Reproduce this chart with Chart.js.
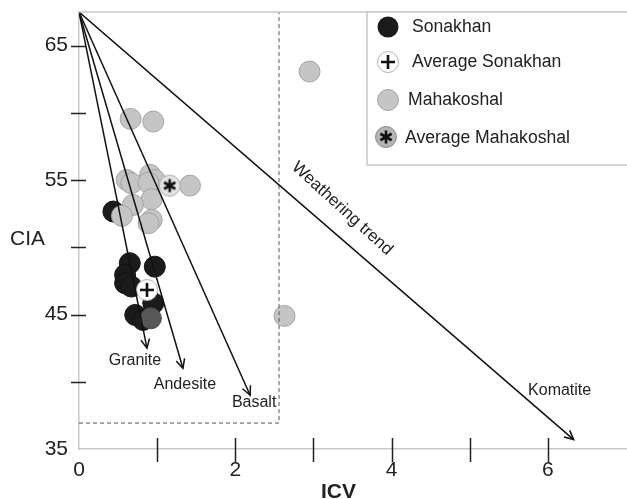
<!DOCTYPE html>
<html>
<head>
<meta charset="utf-8">
<script src="https://cdn.jsdelivr.net/npm/chart.js@4.4.0/dist/chart.umd.min.js"></script>
<style>
html, body { margin: 0; padding: 0; background: #fff; }
#wrap { width: 627px; height: 499px; position: relative; }
</style>
</head>
<body>
<div id="wrap"><canvas id="cia-chart"></canvas></div>
<script>
var sonakhanICV = [0.44, 0.65, 0.97, 0.59, 0.59, 0.67, 0.95, 0.72, 0.82];
var sonakhanCIA = [52.66, 48.82, 48.56, 47.95, 47.33, 47.08, 45.84, 44.97, 44.60];
var mahakoshalICV = [2.95, 0.66, 0.95, 0.61, 0.67, 0.91, 0.97, 0.89, 1.42, 0.93, 0.69, 0.55, 0.93, 0.89, 2.63, 0.92];
var mahakoshalCIA = [63.07, 59.55, 59.35, 55.01, 54.77, 55.39, 55.01, 54.81, 54.59, 53.58, 53.15, 52.34, 52.04, 51.79, 44.9, 44.72];
var avgSonakhan = [0.87, 46.83];
var avgMahakoshal = [1.16, 54.59];
var trendNames = ["Granite", "Andesite", "Basalt", "Komatite"];
var trendEndICV = [0.87, 1.33, 2.19, 6.33];
var trendEndCIA = [42.5, 41.0, 39.0, 35.7];
var trendStart = [0, 67.5];
var fieldICV = 2.56;
var fieldCIA = 36.93;
var xTickMarks = [1, 2, 3, 4, 5, 6];
var yTickMarks = [40, 45, 50, 55, 60, 65];
var yLabels = [35, 45, 55, 65];

var FONT = "'Liberation Sans', Arial, sans-serif";

function toPoints(xs, ys) {
    var pts = [];
    for (var i = 0; i < xs.length; i++) {
        pts.push({x: xs[i], y: ys[i]});
    }
    return pts;
}

function makeMarker(fill, stroke, glyph) {
    var c = document.createElement("canvas");
    c.width = 24;
    c.height = 24;
    var g = c.getContext("2d");
    g.beginPath();
    g.arc(12, 12, 10.5, 0, Math.PI * 2);
    g.fillStyle = fill;
    g.fill();
    g.lineWidth = 1;
    g.strokeStyle = stroke;
    g.stroke();
    g.strokeStyle = "#111";
    g.lineWidth = 2.6;
    g.beginPath();
    if (glyph === "plus") {
        g.moveTo(5, 12); g.lineTo(19, 12);
        g.moveTo(12, 5); g.lineTo(12, 19);
    } else {
        for (var k = 0; k < 3; k++) {
            var a = Math.PI / 2 + k * Math.PI / 3;
            g.moveTo(12 - 6.5 * Math.cos(a), 12 - 6.5 * Math.sin(a));
            g.lineTo(12 + 6.5 * Math.cos(a), 12 + 6.5 * Math.sin(a));
        }
    }
    g.stroke();
    return c;
}

var plusMarker = makeMarker("#ffffff", "#b5b5b5", "plus");
var starMarker = makeMarker("#e4e4e4", "#a8a8a8", "star");
var starLegendMarker = makeMarker("#b4b4b4", "#8c8c8c", "star");

var datasets = [];
trendNames.forEach(function (name, i) {
    datasets.push({
        label: name,
        data: [{x: trendStart[0], y: trendStart[1]}, {x: trendEndICV[i], y: trendEndCIA[i]}],
        showLine: true,
        borderColor: "#111",
        borderWidth: 1.5,
        pointRadius: 0,
        order: 1
    });
});
datasets.push({
    label: "field",
    data: [{x: 0, y: fieldCIA}, {x: fieldICV, y: fieldCIA}, {x: fieldICV, y: trendStart[1]}],
    showLine: true,
    borderColor: "#555",
    borderWidth: 1,
    borderDash: [4, 3],
    pointRadius: 0,
    order: 2
});
datasets.push({
    label: "Average Mahakoshal",
    data: [{x: avgMahakoshal[0], y: avgMahakoshal[1]}],
    pointStyle: starMarker,
    order: 3
});
datasets.push({
    label: "Average Sonakhan",
    data: [{x: avgSonakhan[0], y: avgSonakhan[1]}],
    pointStyle: plusMarker,
    order: 4
});
datasets.push({
    label: "Mahakoshal",
    data: toPoints(mahakoshalICV, mahakoshalCIA),
    pointRadius: 10.5,
    pointBackgroundColor: function (ctx) {
        var p = ctx.raw;
        return (p && p.y < 46 && p.x < 1.5) ? "#575757" : "#c5c5c5";
    },
    pointBorderColor: function (ctx) {
        var p = ctx.raw;
        return (p && p.y < 46 && p.x < 1.5) ? "#4a4a4a" : "#a3a3a3";
    },
    pointBorderWidth: 1,
    order: 5
});
datasets.push({
    label: "Sonakhan",
    data: toPoints(sonakhanICV, sonakhanCIA),
    pointRadius: 10.5,
    pointBackgroundColor: "#1b1b1b",
    pointBorderColor: "#111",
    pointBorderWidth: 1,
    order: 6
});

function noScalePadding(s) {
    s.paddingLeft = 0;
    s.paddingRight = 0;
    s.paddingTop = 0;
    s.paddingBottom = 0;
}

var decorPlugin = {
    id: "decor",
    afterDraw: function (chart) {
        var ctx = chart.ctx;
        var xs = chart.scales.x;
        var ys = chart.scales.y;
        var area = chart.chartArea;
        ctx.save();

        // top frame line
        ctx.strokeStyle = "#c8c8c8";
        ctx.lineWidth = 1.5;
        ctx.beginPath();
        ctx.moveTo(area.left, area.top);
        ctx.lineTo(chart.width, area.top);
        ctx.stroke();

        // tick marks crossing the axes
        ctx.strokeStyle = "#222";
        ctx.lineWidth = 1.5;
        ctx.beginPath();
        xTickMarks.forEach(function (v) {
            var px = Math.round(xs.getPixelForValue(v)) + 0.5;
            ctx.moveTo(px, area.bottom - 11);
            ctx.lineTo(px, area.bottom + 13);
        });
        yTickMarks.forEach(function (v) {
            var py = Math.round(ys.getPixelForValue(v)) + 0.5;
            ctx.moveTo(area.left - 8, py);
            ctx.lineTo(area.left + 7, py);
        });
        ctx.stroke();

        // arrow heads and rock labels
        var labelOffsets = [[-12, 17], [2, 21], [4, 12], [-14, -45]];
        ctx.strokeStyle = "#111";
        ctx.lineWidth = 1.5;
        ctx.fillStyle = "#222";
        ctx.font = "16px " + FONT;
        ctx.textAlign = "center";
        ctx.textBaseline = "alphabetic";
        var x0 = xs.getPixelForValue(trendStart[0]);
        var y0 = ys.getPixelForValue(trendStart[1]);
        trendNames.forEach(function (name, i) {
            var tx = xs.getPixelForValue(trendEndICV[i]);
            var ty = ys.getPixelForValue(trendEndCIA[i]);
            var ang = Math.atan2(ty - y0, tx - x0);
            ctx.beginPath();
            ctx.moveTo(tx - 10 * Math.cos(ang - 0.45), ty - 10 * Math.sin(ang - 0.45));
            ctx.lineTo(tx, ty);
            ctx.lineTo(tx - 10 * Math.cos(ang + 0.45), ty - 10 * Math.sin(ang + 0.45));
            ctx.stroke();
            ctx.fillText(name, tx + labelOffsets[i][0], ty + labelOffsets[i][1]);
        });

        // weathering trend label along the komatite line
        ctx.save();
        ctx.translate(339, 212);
        ctx.rotate(0.74);
        ctx.font = "17px " + FONT;
        ctx.fillText("Weathering trend", 0, 0);
        ctx.restore();

        // axis titles
        ctx.textAlign = "left";
        ctx.font = "21px " + FONT;
        ctx.fillText("CIA", 10, 245);
        ctx.font = "bold 21px " + FONT;
        ctx.fillText("ICV", 321, 498);

        // legend box
        ctx.fillStyle = "#fff";
        ctx.fillRect(367, area.top, chart.width - 367, 153);
        ctx.strokeStyle = "#c8c8c8";
        ctx.lineWidth = 1.5;
        ctx.beginPath();
        ctx.moveTo(chart.width, area.top);
        ctx.lineTo(367, area.top);
        ctx.lineTo(367, area.top + 153);
        ctx.lineTo(chart.width, area.top + 153);
        ctx.stroke();

        ctx.beginPath();
        ctx.arc(388, 27, 10.5, 0, Math.PI * 2);
        ctx.fillStyle = "#1b1b1b";
        ctx.fill();
        ctx.drawImage(plusMarker, 376, 50);
        ctx.beginPath();
        ctx.arc(388, 100, 10.5, 0, Math.PI * 2);
        ctx.fillStyle = "#c5c5c5";
        ctx.fill();
        ctx.strokeStyle = "#a3a3a3";
        ctx.lineWidth = 1;
        ctx.stroke();
        ctx.drawImage(starLegendMarker, 374, 125);

        ctx.fillStyle = "#222";
        ctx.font = "17.6px " + FONT;
        ctx.textBaseline = "middle";
        ctx.fillText("Sonakhan", 412, 27);
        ctx.fillText("Average Sonakhan", 412, 62);
        ctx.fillText("Mahakoshal", 408, 100);
        ctx.fillText("Average Mahakoshal", 405, 138);
        ctx.restore();
    }
};

var chart = new Chart(document.getElementById("cia-chart"), {
    type: "scatter",
    data: {datasets: datasets},
    options: {
        responsive: true,
        maintainAspectRatio: false,
        animation: false,
        layout: {autoPadding: false, padding: {top: 12, right: 1, left: 0, bottom: 0}},
        plugins: {
            legend: {display: false},
            tooltip: {enabled: false}
        },
        scales: {
            x: {
                type: "linear",
                min: 0,
                max: 7,
                afterFit: function (s) { s.height = 50; noScalePadding(s); },
                grid: {display: false, drawTicks: false},
                border: {display: true, color: "#c8c8c8", width: 1.5},
                ticks: {
                    stepSize: 1,
                    autoSkip: false,
                    maxRotation: 0,
                    padding: 9,
                    color: "#222",
                    font: {family: FONT, size: 21},
                    callback: function (v) { return (v % 2 === 0 && v <= 6) ? String(v) : ""; }
                }
            },
            y: {
                type: "linear",
                min: 35,
                max: trendStart[1],
                afterFit: function (s) { s.width = 79; noScalePadding(s); },
                grid: {display: false, drawTicks: false},
                border: {display: true, color: "#c8c8c8", width: 1.5},
                ticks: {
                    stepSize: 5,
                    autoSkip: false,
                    padding: 11,
                    color: "#222",
                    font: {family: FONT, size: 21},
                    callback: function (v) { return yLabels.indexOf(v) >= 0 ? String(v) : ""; }
                }
            }
        }
    },
    plugins: [decorPlugin]
});
</script>
</body>
</html>
